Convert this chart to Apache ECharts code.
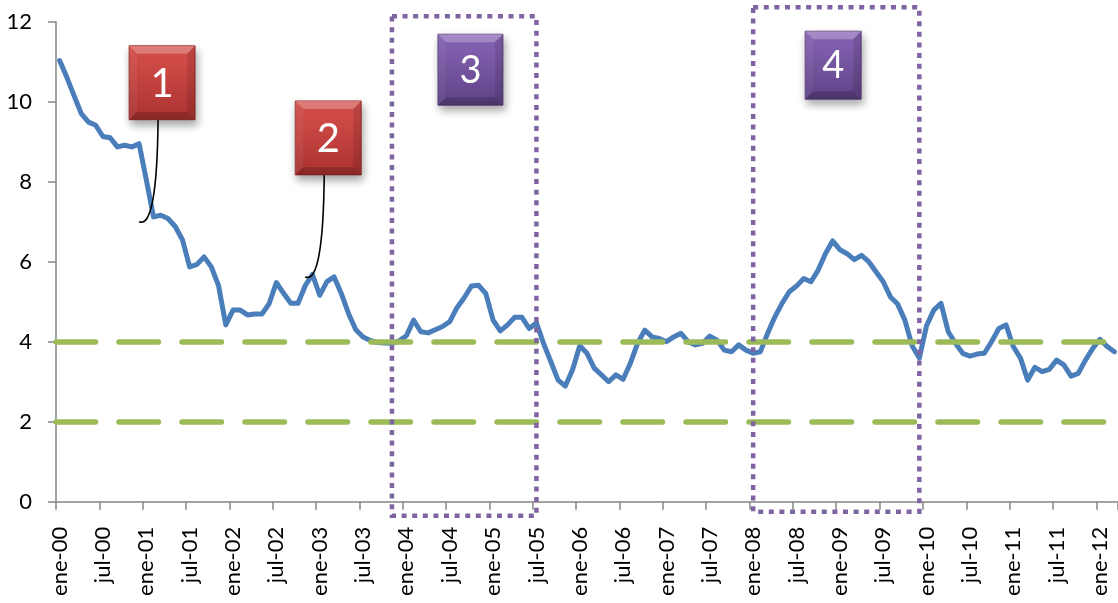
<!DOCTYPE html>
<html>
<head>
<meta charset="utf-8">
<script src="https://cdn.jsdelivr.net/npm/echarts@6/dist/echarts.min.js"></script>
<style>
  html, body { margin: 0; padding: 0; background: #ffffff; }
  #chart { width: 1118px; height: 603px; }
</style>
</head>
<body>
<div id="chart"></div>
<script>
// Month abbreviations used on the category axis (Spanish)
const monthNames = ['ene', 'feb', 'mar', 'abr', 'may', 'jun', 'jul', 'ago', 'sep', 'oct', 'nov', 'dic'];
const firstYear = 2000;
const monthCount = 147; // ene-00 .. mar-12

// Monthly values, ene-00 .. mar-12
const values = [
  11.03, 10.61, 10.15, 9.70, 9.49, 9.41, 9.13, 9.10, 8.87, 8.91, 8.87, 8.95,   // 2000
  8.05, 7.12, 7.16, 7.08, 6.88, 6.55, 5.87, 5.93, 6.12, 5.87, 5.40, 4.42,      // 2001
  4.79, 4.79, 4.67, 4.69, 4.69, 4.95, 5.48, 5.21, 4.96, 4.96, 5.40, 5.68,      // 2002
  5.16, 5.50, 5.62, 5.20, 4.70, 4.30, 4.12, 4.03, 3.98, 3.97, 3.96, 4.02,      // 2003
  4.15, 4.54, 4.25, 4.22, 4.30, 4.38, 4.50, 4.85, 5.10, 5.39, 5.41, 5.20,      // 2004
  4.54, 4.27, 4.42, 4.61, 4.61, 4.33, 4.47, 3.95, 3.50, 3.04, 2.89, 3.30,      // 2005
  3.90, 3.71, 3.34, 3.17, 3.00, 3.17, 3.06, 3.46, 3.96, 4.29, 4.12, 4.08,      // 2006
  4.00, 4.12, 4.21, 4.00, 3.92, 3.96, 4.14, 4.04, 3.79, 3.75, 3.92, 3.79,      // 2007
  3.71, 3.75, 4.21, 4.62, 4.96, 5.25, 5.39, 5.58, 5.50, 5.79, 6.20, 6.52,      // 2008
  6.30, 6.20, 6.05, 6.16, 6.00, 5.75, 5.50, 5.12, 4.94, 4.54, 3.90, 3.59,      // 2009
  4.40, 4.79, 4.96, 4.25, 3.96, 3.71, 3.64, 3.69, 3.71, 4.00, 4.33, 4.42,      // 2010
  3.88, 3.59, 3.04, 3.36, 3.25, 3.31, 3.54, 3.42, 3.14, 3.21, 3.54, 3.83,      // 2011
  4.06, 3.88, 3.75                                                             // 2012
];

// Target band limits drawn as dashed reference lines
const bandLevels = [4, 2];

// Value axis range
const yMin = 0, yMax = 12, yStep = 2;

// Highlighted periods (dotted frames with a numbered tag)
const periods = [
  { label: '3', from: 'nov-03', to: 'jul-05' },
  { label: '4', from: 'ene-08', to: 'dic-09' }
];

// Numbered callouts pointing at the series
const callouts = [
  { label: '1', month: 'dic-00', value: 7.0 },
  { label: '2', month: 'nov-02', value: 5.62 }
];

// Build category labels such as "ene-00"
const categories = [];
for (let i = 0; i < monthCount; i++) {
  const y = firstYear + Math.floor(i / 12);
  categories.push(monthNames[i % 12] + '-' + String(y % 100).padStart(2, '0'));
}

const FONT = 'Lato, "Open Sans", sans-serif';
const GRID = { left: 56, right: 0, top: 21.7, height: 480 };

const chart = echarts.init(document.getElementById('chart'), null, { renderer: 'canvas' });

chart.setOption({
  animation: false,
  backgroundColor: '#ffffff',
  grid: { left: GRID.left, right: GRID.right, top: GRID.top, height: GRID.height, containLabel: false },
  xAxis: {
    type: 'category',
    data: categories,
    boundaryGap: true,
    axisLine: { show: true, lineStyle: { color: '#868686', width: 1.5 } },
    axisTick: { show: true, interval: 5, length: 8, lineStyle: { color: '#868686', width: 1.5 } },
    axisLabel: {
      interval: 5, rotate: 90, margin: 25,
      color: '#000000', fontFamily: FONT, fontSize: 22
    },
    splitLine: { show: false }
  },
  yAxis: {
    type: 'value',
    min: yMin, max: yMax, interval: yStep,
    axisLine: { show: true, lineStyle: { color: '#868686', width: 1.5 } },
    axisTick: { show: true, length: 8, lineStyle: { color: '#868686', width: 1.5 } },
    axisLabel: { margin: 24, color: '#000000', fontFamily: FONT, fontSize: 22 },
    splitLine: { show: false }
  },
  series: [{
    type: 'line',
    data: values,
    symbol: 'none',
    smooth: false,
    lineStyle: { color: '#4A7EBB', width: 5, join: 'round', cap: 'round' },
    z: 3,
    markLine: {
      silent: true,
      symbol: 'none',
      label: { show: false },
      lineStyle: { color: '#9BBB59', width: 5.5, type: [39.5, 23.5], cap: 'round' },
      data: bandLevels.map(v => ({ yAxis: v }))
    }
  }]
});

// ---- Annotations: dotted frames, bevelled number tags and callout curves ----
const toPx = (cat, v) => chart.convertToPixel({ gridIndex: 0 }, [categories.indexOf(cat), v]);
const gridTopPx = GRID.top;
const gridBottomPx = GRID.top + GRID.height;

const palettes = {
  red: { top: '#DA514C', bottom: '#AA3230', edge: '#8E2624' },
  purple: { top: '#8A66B8', bottom: '#5F4286', edge: '#4C336E' }
};

function bevelBox(x, y, w, h, pal, text, fontSize) {
  const b = 8;
  return [
    {
      type: 'rect', z: 100,
      shape: { x, y, width: w, height: h },
      style: {
        fill: { type: 'linear', x: 0, y: 0, x2: 0, y2: 1,
          colorStops: [{ offset: 0, color: pal.top }, { offset: 1, color: pal.bottom }] },
        stroke: pal.edge, lineWidth: 0.8,
        shadowBlur: 8, shadowOffsetX: 2, shadowOffsetY: 5, shadowColor: 'rgba(0,0,0,0.35)'
      }
    },
    { type: 'polygon', z: 101, shape: { points: [[x, y], [x + w, y], [x + w - b, y + b], [x + b, y + b]] },
      style: { fill: 'rgba(255,255,255,0.26)' } },
    { type: 'polygon', z: 101, shape: { points: [[x, y], [x + b, y + b], [x + b, y + h - b], [x, y + h]] },
      style: { fill: 'rgba(255,255,255,0.06)' } },
    { type: 'polygon', z: 101, shape: { points: [[x + w, y], [x + w, y + h], [x + w - b, y + h - b], [x + w - b, y + b]] },
      style: { fill: 'rgba(0,0,0,0.1)' } },
    { type: 'polygon', z: 101, shape: { points: [[x, y + h], [x + w, y + h], [x + w - b, y + h - b], [x + b, y + h - b]] },
      style: { fill: 'rgba(0,0,0,0.18)' } },
    {
      type: 'text', z: 102, x: x + w / 2, y: y + h / 2 + 1,
      style: { text, fill: '#ffffff', font: fontSize + 'px ' + FONT, align: 'center', verticalAlign: 'middle' }
    }
  ];
}

const graphics = [];

// Frame layout for each highlighted period (pixel offsets from grid edges)
const frameLayout = [
  { top: -5.5, bottom: 14, tagDx: 46, tagDy: 18, tagW: 65, tagH: 71 },
  { top: -14.5, bottom: 10, tagDx: 52, tagDy: 24, tagW: 56, tagH: 68 }
];

periods.forEach((p, i) => {
  const lay = frameLayout[i];
  const x1 = toPx(p.from, 0)[0];
  const x2 = toPx(p.to, 0)[0];
  const y1 = gridTopPx + lay.top;
  const y2 = gridBottomPx + lay.bottom;
  graphics.push({
    type: 'rect', z: 90,
    shape: { x: x1, y: y1, width: x2 - x1, height: y2 - y1 },
    style: { fill: 'none', stroke: '#8064A2', lineWidth: 4.5, lineDash: [5, 5.6] }
  });
  graphics.push(...bevelBox(x1 + lay.tagDx, y1 + lay.tagDy, lay.tagW, lay.tagH, palettes.purple, p.label, 38));
});

callouts.forEach(c => {
  const tip = toPx(c.month, c.value);
  const bx = tip[0] - 10, by = tip[1] - 176, bw = 66, bh = 74;
  const sx = bx + 29, sy = by + bh - 1;
  graphics.push({
    type: 'bezierCurve', z: 95,
    shape: { x1: sx, y1: sy, x2: tip[0], y2: tip[1], cpx1: sx - 1, cpy1: tip[1] + 8 },
    style: { stroke: '#000000', lineWidth: 1.6, fill: 'none' }
  });
  graphics.push(...bevelBox(bx, by, bw, bh, palettes.red, c.label, 40));
});

chart.setOption({ graphic: { elements: graphics } });
</script>
</body>
</html>
